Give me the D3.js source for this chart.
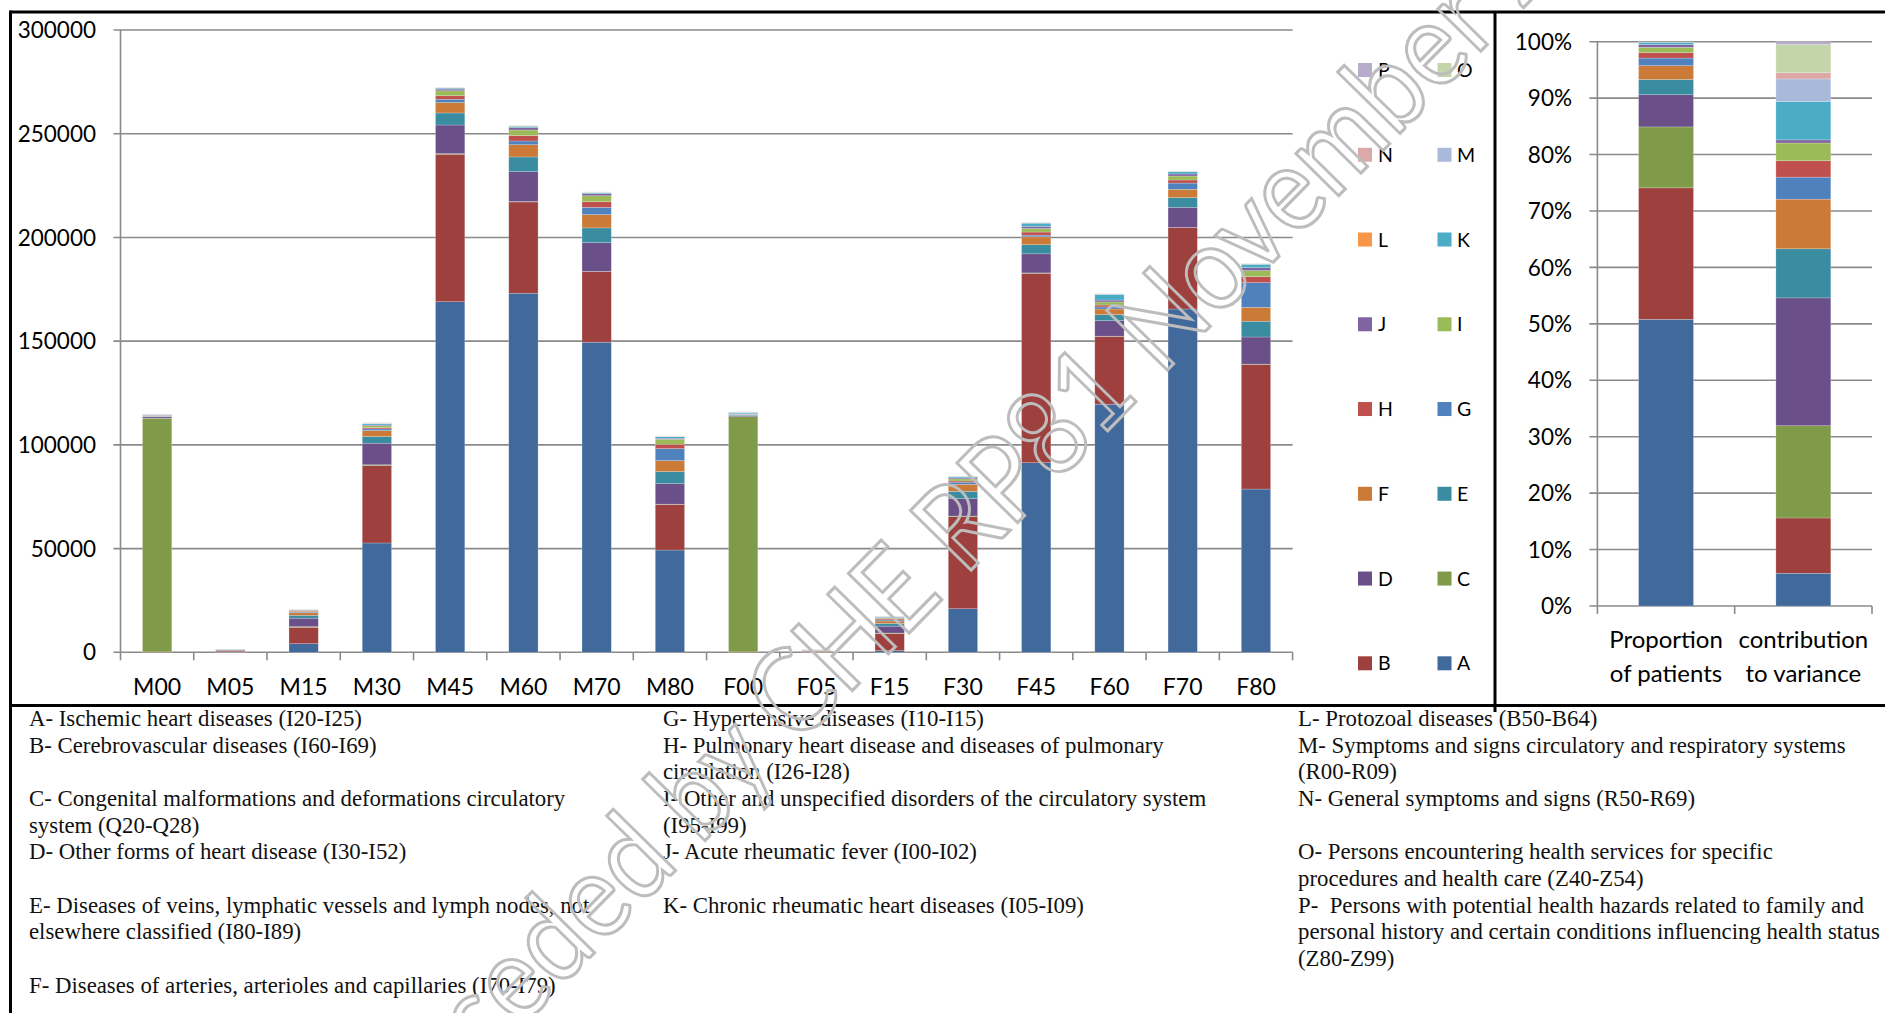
<!DOCTYPE html>
<html><head><meta charset="utf-8">
<script src="https://cdn.jsdelivr.net/npm/d3@7"></script>
<style>
html,body{margin:0;padding:0;background:#fff;}
svg{display:block;}
.notes text{white-space:pre;}
</style></head>
<body>
<svg id="chart" width="1885" height="1013"></svg>
<script>
// ---------- DATA ----------
const categories = ["M00","M05","M15","M30","M45","M60","M70","M80","F00","F05","F15","F30","F45","F60","F70","F80"];
const seriesKeys = ["A","B","C","D","E","F","G","H","I","J","K","L","M","N","O","P"];
const seriesColors = ["#41699C","#9E413E","#7F9A48","#6A4F88","#3A8CA0","#CC7A38","#4F81BD","#C0504D","#9BBB59","#8064A2","#4BACC6","#F79646","#A9B9D9","#DCA8A8","#C4D6A9","#B7ADCB"];

const serA = [0,100,4150,52700,169000,173100,149500,49300,0,100,800,21000,91400,119600,165500,78700];
const serB = [200,500,7900,37300,71100,44000,34000,22000,200,400,8200,44400,91300,32700,39200,60100];
const serC = [112600,200,300,400,300,200,100,100,113400,200,300,300,200,100,100,100];
const serD = [700,300,4100,10400,13800,14400,13900,9900,500,200,3300,8400,9200,7500,9700,13100];
const serE = [300,100,1400,3200,5800,7100,7100,5800,300,100,1300,3500,4400,2900,4700,7600];
const serF = [100,100,1300,2900,5000,5900,6400,5300,100,50,1200,3400,3800,2700,4000,6700];
const serG = [100,50,300,800,1600,1800,3500,5800,100,50,500,1000,800,1000,3000,11900];
const serH = [100,50,400,600,1700,2600,2700,2100,100,50,500,600,1500,900,1500,2900];
const serI = [100,50,400,900,2400,2700,2900,2400,100,50,500,1000,1700,1500,1900,2900];
const serJ = [200,50,200,400,800,1100,1000,500,200,50,300,500,1000,900,1000,1400];
const serK = [300,50,200,700,500,700,500,800,700,50,400,600,1600,2800,1100,1700];
const serL = [20,0,20,50,100,100,50,50,20,0,20,50,50,50,50,50];
const serM = [100,0,50,100,100,100,100,100,100,0,50,100,100,100,100,100];
const serN = [20,0,20,50,50,50,50,50,20,0,20,50,50,50,50,50];
const serO = [50,0,50,100,100,100,100,100,50,0,50,100,100,100,100,100];
const serP = [20,0,20,50,50,50,50,50,20,0,20,50,50,50,50,50];
const seriesValues = [serA,serB,serC,serD,serE,serF,serG,serH,serI,serJ,serK,serL,serM,serN,serO,serP];

const yTicks = [0,50000,100000,150000,200000,250000,300000];

const rightCategories = ["Proportion of patients","contribution to variance"];
const rightLabelLines = [["Proportion","of patients"],["contribution","to variance"]];
//                      A     B     C      D      E    F     G     H     I     J    K    L     M     N    O    P
const propPatients    = [50.8, 23.3, 10.8,  5.7,  2.7, 2.45, 1.35, 0.95, 0.95, 0.5, 0.4, 0.02, 0.03, 0.0, 0.0, 0.0];
const contribVariance = [5.8,  9.8,  16.35, 22.65, 8.7, 8.8,  3.9,  2.9,  3.15, 0.55, 6.8, 0.0, 4.0,  1.1, 5.0, 0.5];
const pctTicks = [0,10,20,30,40,50,60,70,80,90,100];

const legendLeft = ["P","N","L","J","H","F","D","B"];
const legendRight = ["O","M","K","I","G","E","C","A"];

const notesCol1 = [[0,"A- Ischemic heart diseases (I20-I25)"],[1,"B- Cerebrovascular diseases (I60-I69)"],
  [3,"C- Congenital malformations and deformations circulatory"],[4,"system (Q20-Q28)"],
  [5,"D- Other forms of heart disease (I30-I52)"],
  [7,"E- Diseases of veins, lymphatic vessels and lymph nodes, not"],[8,"elsewhere classified (I80-I89)"],
  [10,"F- Diseases of arteries, arterioles and capillaries (I70-I79)"]];
const notesCol2 = [[0,"G- Hypertensive diseases (I10-I15)"],[1,"H- Pulmonary heart disease and diseases of pulmonary"],
  [2,"circulation (I26-I28)"],[3,"I- Other and unspecified disorders of the circulatory system"],[4,"(I95-I99)"],
  [5,"J- Acute rheumatic fever (I00-I02)"],[7,"K- Chronic rheumatic heart diseases (I05-I09)"]];
const notesCol3 = [[0,"L- Protozoal diseases (B50-B64)"],[1,"M- Symptoms and signs circulatory and respiratory systems"],
  [2,"(R00-R09)"],[3,"N- General symptoms and signs (R50-R69)"],
  [5,"O- Persons encountering health services for specific"],[6,"procedures and health care (Z40-Z54)"],
  [7,"P-  Persons with potential health hazards related to family and"],
  [8,"personal history and certain conditions influencing health status"],[9,"(Z80-Z99)"]];

const watermarkText = "Superseded by CHE RP81 November 2013";

// ---------- DRAW ----------
const svg = d3.select("#chart");
const FONT = "Lato, 'Open Sans', sans-serif";
const gridColor = "#8A8A8A";
const colorOf = d3.scaleOrdinal().domain(seriesKeys).range(seriesColors);

// frame
svg.append("g").attr("class","frame").call(g=>{
  g.append("line").attr("x1",10).attr("x2",1885).attr("y1",12).attr("y2",12);
  g.append("line").attr("x1",10).attr("x2",1885).attr("y1",705.5).attr("y2",705.5);
  g.append("line").attr("x1",10.5).attr("x2",10.5).attr("y1",10.5).attr("y2",1013);
  g.append("line").attr("x1",1495).attr("x2",1495).attr("y1",12).attr("y2",712);
}).selectAll("line").attr("stroke","#000").attr("stroke-width",3);

// ----- left chart -----
const L = {x0:120.5, x1:1292.6, yb:652.3, yt:30};
const x = d3.scaleBand().domain(categories).range([L.x0,L.x1]).paddingInner(0.6).paddingOuter(0.3);
const y = d3.scaleLinear().domain([0,300000]).range([L.yb,L.yt]);

const table = categories.map((c,i)=>{const o={cat:c}; seriesKeys.forEach((k,j)=>o[k]=seriesValues[j][i]); return o;});
const stack = d3.stack().keys(seriesKeys)(table);

const left = svg.append("g");
left.append("g").selectAll("line").data(yTicks).join("line")
  .attr("x1",L.x0-7).attr("x2",L.x1).attr("y1",d=>y(d)).attr("y2",d=>y(d))
  .attr("stroke",gridColor).attr("stroke-width",1.6);
left.append("line").attr("x1",L.x0).attr("x2",L.x0).attr("y1",L.yt).attr("y2",L.yb)
  .attr("stroke",gridColor).attr("stroke-width",1.6);
const step = x.step();
left.append("g").selectAll("line").data(d3.range(categories.length+1)).join("line")
  .attr("x1",i=>L.x0+i*step).attr("x2",i=>L.x0+i*step).attr("y1",L.yb).attr("y2",L.yb+8)
  .attr("stroke",gridColor).attr("stroke-width",1.6);

left.append("g").selectAll("g").data(stack).join("g").attr("fill",d=>colorOf(d.key))
  .selectAll("rect").data(d=>d).join("rect")
  .attr("x",d=>x(d.data.cat)).attr("width",x.bandwidth())
  .attr("y",d=>y(d[1])).attr("height",d=>Math.max(0,y(d[0])-y(d[1])))
  .attr("stroke","rgba(255,255,255,0.35)").attr("stroke-width",0.6);

left.append("g").selectAll("text").data(yTicks).join("text")
  .attr("x",96).attr("y",d=>y(d)).attr("dy","0.36em").attr("text-anchor","end")
  .attr("font-family",FONT).attr("font-size",22.5).attr("fill","#000").text(d=>d);
left.append("g").selectAll("text").data(categories).join("text")
  .attr("x",d=>x(d)+x.bandwidth()/2).attr("y",695).attr("text-anchor","middle")
  .attr("font-family",FONT).attr("font-size",23).attr("fill","#000").text(d=>d);

// legend
const legRowY = d3.scalePoint().domain(d3.range(8)).range([70,663.3]);
const leg = svg.append("g").attr("font-family",FONT).attr("font-size",19.5);
[[legendLeft,1358,1378],[legendRight,1437.5,1457]].forEach(([keys,sx,tx])=>{
  const g = leg.append("g").selectAll("g").data(keys).join("g");
  g.append("rect").attr("x",sx).attr("y",(d,i)=>legRowY(i)-7).attr("width",14).attr("height",14).attr("fill",d=>colorOf(d));
  g.append("text").attr("x",tx).attr("y",(d,i)=>legRowY(i)).attr("dy","0.36em").text(d=>d);
});

// ----- right chart -----
const R = {x0:1597.4, x1:1872, yb:606, yt:41.7};
const xr = d3.scaleBand().domain(rightCategories).range([R.x0,R.x1]).paddingInner(0.6).paddingOuter(0.3);
const yr = d3.scaleLinear().domain([0,100]).range([R.yb,R.yt]);
const rTable = rightCategories.map((c,i)=>{const o={cat:c}; seriesKeys.forEach((k,j)=>o[k]=(i===0?propPatients:contribVariance)[j]); return o;});
const rStack = d3.stack().keys(seriesKeys)(rTable);
const right = svg.append("g");
right.append("g").selectAll("line").data(pctTicks).join("line")
  .attr("x1",R.x0-8).attr("x2",R.x1).attr("y1",d=>yr(d)).attr("y2",d=>yr(d))
  .attr("stroke",gridColor).attr("stroke-width",1.6);
right.append("line").attr("x1",R.x0).attr("x2",R.x0).attr("y1",R.yt).attr("y2",R.yb)
  .attr("stroke",gridColor).attr("stroke-width",1.6);
right.append("g").selectAll("line").data(d3.range(rightCategories.length+1)).join("line")
  .attr("x1",i=>R.x0+i*xr.step()).attr("x2",i=>R.x0+i*xr.step()).attr("y1",R.yb).attr("y2",R.yb+8)
  .attr("stroke",gridColor).attr("stroke-width",1.6);
right.append("g").selectAll("g").data(rStack).join("g").attr("fill",d=>colorOf(d.key))
  .selectAll("rect").data(d=>d).join("rect")
  .attr("x",d=>xr(d.data.cat)).attr("width",xr.bandwidth())
  .attr("y",d=>yr(d[1])).attr("height",d=>Math.max(0,yr(d[0])-yr(d[1])))
  .attr("stroke","rgba(255,255,255,0.35)").attr("stroke-width",0.6);
right.append("g").selectAll("text").data(pctTicks).join("text")
  .attr("x",1572).attr("y",d=>yr(d)).attr("dy","0.36em").attr("text-anchor","end")
  .attr("font-family",FONT).attr("font-size",22.5).text(d=>d+"%");
right.append("g").selectAll("text").data(rightCategories).join("text")
  .attr("font-family",FONT).attr("font-size",24).attr("text-anchor","middle")
  .each(function(d,i){
    const t=d3.select(this); const cx=xr(d)+xr.bandwidth()/2;
    rightLabelLines[i].forEach((ln,j)=>t.append("tspan").attr("x",cx).attr("y",648+j*34).text(ln));
  });

// ----- notes -----
const notes = svg.append("g").attr("class","notes").attr("font-family","'Liberation Serif', 'Times New Roman', serif").attr("font-size",22.8).attr("fill","#111");
[[notesCol1,29],[notesCol2,663],[notesCol3,1298]].forEach(([rows,cx])=>{
  notes.append("g").selectAll("text").data(rows).join("text")
    .attr("x",cx).attr("y",d=>726+d[0]*26.67).text(d=>d[1]);
});

// ----- watermark -----
const wm = svg.append("text").attr("font-family",FONT).attr("font-size",106)
  .attr("fill","none").attr("stroke","#BDBDBD").attr("stroke-width",2.8)
  .text(watermarkText);
const off = wm.node().getSubStringLength(0, watermarkText.indexOf("CHE"));
wm.attr("x",-off).attr("y",0).attr("transform","translate(796,748) rotate(-45.5) scale(1,1.12)");
</script>
</body></html>
